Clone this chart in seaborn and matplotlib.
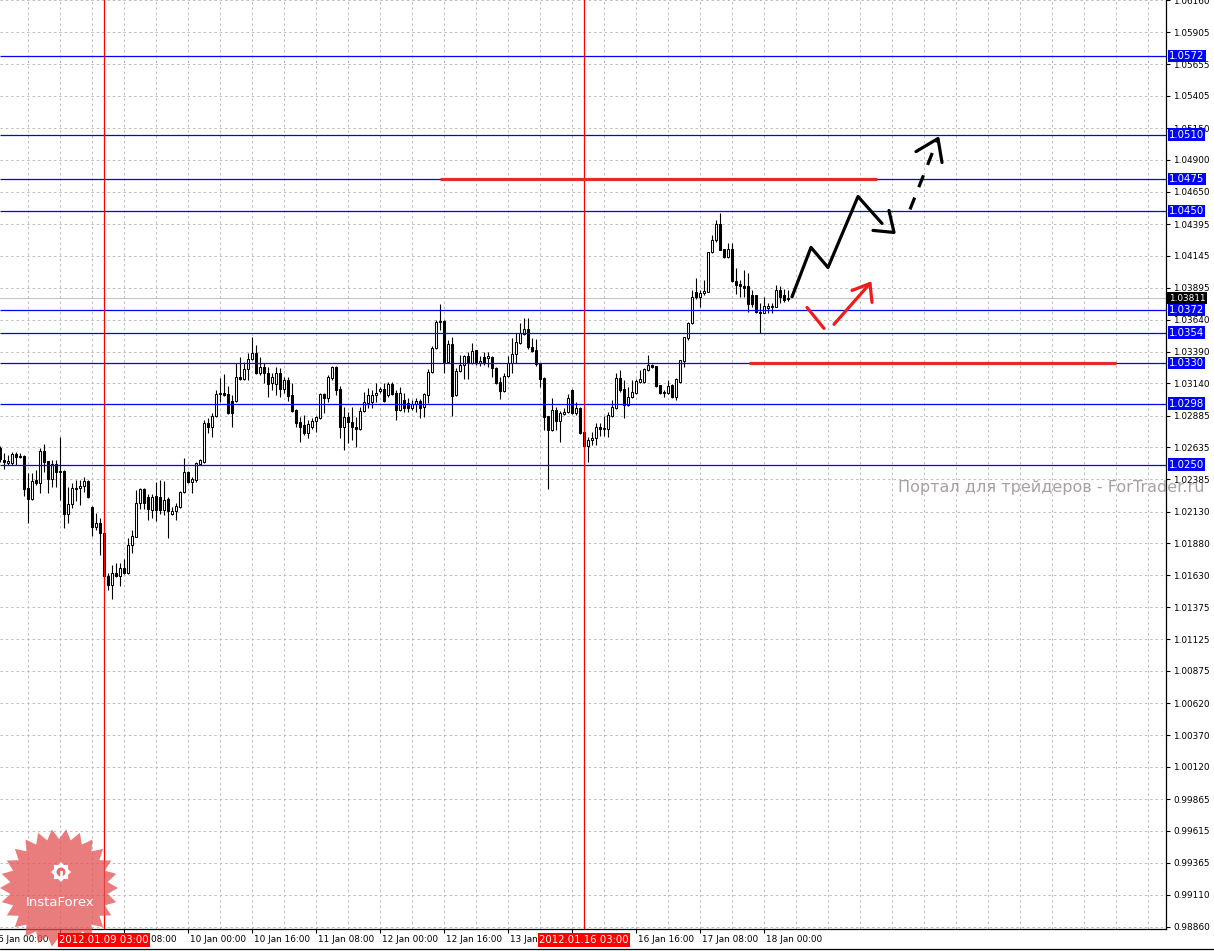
import numpy as np
import matplotlib
matplotlib.use("Agg")
import matplotlib.pyplot as plt
import matplotlib.transforms as mtransforms
from matplotlib.patches import Polygon
from matplotlib.lines import Line2D
import seaborn as sns

# H1 candles, 6 Jan 2012 01:00 .. 18 Jan 2012 06:00 (one value per bar)
opens = [
    1.02634, 1.02539, 1.02516, 1.02516, 1.02587, 1.02571, 1.02571, 1.02319, 1.02232, 1.02382,
    1.02358, 1.02610, 1.02531, 1.02390, 1.02508, 1.02453, 1.02453, 1.02114, 1.02193, 1.02319,
    1.02319, 1.02335, 1.02374, 1.02169, 1.02012, 1.02044, 1.01965, 1.01619, 1.01548, 1.01650,
    1.01619, 1.01689, 1.01650, 1.01870, 1.01933, 1.02201, 1.02311, 1.02248, 1.02146, 1.02256,
    1.02248, 1.02146, 1.02232, 1.02114, 1.02138, 1.02169, 1.02288, 1.02445, 1.02366, 1.02382,
    1.02508, 1.02524, 1.02831, 1.02799, 1.02886, 1.03059, 1.03067, 1.03059, 1.03004, 1.03004,
    1.03193, 1.03177, 1.03256, 1.03334, 1.03381, 1.03224, 1.03271, 1.03224, 1.03145, 1.03137,
    1.03224, 1.03098, 1.03169, 1.03051, 1.02933, 1.02838, 1.02815, 1.02752, 1.02799, 1.02846,
    1.02870, 1.03059, 1.03027, 1.03185, 1.03271, 1.03098, 1.02799, 1.02878, 1.02838, 1.02799,
    1.02783, 1.02925, 1.02988, 1.02996, 1.03051, 1.03082, 1.03098, 1.03051, 1.03137, 1.03067,
    1.02933, 1.03012, 1.02988, 1.02949, 1.02980, 1.03004, 1.02956, 1.03051, 1.03232, 1.03421,
    1.03625, 1.03633, 1.03311, 1.03452, 1.03051, 1.03240, 1.03287, 1.03358, 1.03303, 1.03405,
    1.03303, 1.03350, 1.03342, 1.03350, 1.03263, 1.03153, 1.03082, 1.03200, 1.03303, 1.03374,
    1.03460, 1.03531, 1.03570, 1.03429, 1.03405, 1.03303, 1.03185, 1.02886, 1.02775, 1.02933,
    1.02846, 1.02901, 1.02917, 1.03090, 1.02909, 1.02949, 1.02760, 1.02650, 1.02697, 1.02712,
    1.02799, 1.02783, 1.02783, 1.02886, 1.02949, 1.03185, 1.03098, 1.02972, 1.03035, 1.03067,
    1.03153, 1.03153, 1.03248, 1.03287, 1.03279, 1.03130, 1.03075, 1.03067, 1.03130, 1.03035,
    1.03153, 1.03318, 1.03499, 1.03618, 1.03862, 1.03822, 1.03854, 1.03862, 1.04176, 1.04271,
    1.04397, 1.04200, 1.04137, 1.04200, 1.03948, 1.03924, 1.03909, 1.03909, 1.03838, 1.03838,
    1.03704, 1.03696, 1.03736, 1.03743, 1.03743, 1.03877, 1.03838, 1.03806,
]
highs = [
    1.02650, 1.02594, 1.02579, 1.02602, 1.02602, 1.02594, 1.02579, 1.02437, 1.02437, 1.02461,
    1.02634, 1.02665, 1.02531, 1.02539, 1.02539, 1.02720, 1.02461, 1.02327, 1.02358, 1.02382,
    1.02382, 1.02406, 1.02382, 1.02177, 1.02122, 1.02083, 1.01973, 1.01650, 1.01713, 1.01729,
    1.01729, 1.01760, 1.01925, 1.01988, 1.02303, 1.02319, 1.02319, 1.02272, 1.02272, 1.02366,
    1.02382, 1.02374, 1.02248, 1.02169, 1.02201, 1.02295, 1.02555, 1.02453, 1.02406, 1.02524,
    1.02547, 1.02854, 1.02870, 1.02909, 1.03090, 1.03185, 1.03216, 1.03122, 1.03051, 1.03303,
    1.03350, 1.03311, 1.03381, 1.03507, 1.03444, 1.03350, 1.03303, 1.03271, 1.03224, 1.03271,
    1.03263, 1.03193, 1.03193, 1.03145, 1.02941, 1.02878, 1.02894, 1.02854, 1.02870, 1.02886,
    1.03067, 1.03067, 1.03208, 1.03279, 1.03279, 1.03122, 1.02956, 1.02917, 1.02956, 1.02878,
    1.02956, 1.03075, 1.03106, 1.03090, 1.03145, 1.03114, 1.03145, 1.03153, 1.03153, 1.03090,
    1.03114, 1.03067, 1.03027, 1.03012, 1.03027, 1.03019, 1.03067, 1.03256, 1.03437, 1.03641,
    1.03767, 1.03641, 1.03484, 1.03507, 1.03263, 1.03366, 1.03366, 1.03389, 1.03460, 1.03405,
    1.03358, 1.03389, 1.03389, 1.03358, 1.03271, 1.03193, 1.03224, 1.03358, 1.03499, 1.03539,
    1.03618, 1.03657, 1.03657, 1.03499, 1.03492, 1.03303, 1.03193, 1.02886, 1.03027, 1.02956,
    1.02925, 1.02949, 1.03059, 1.03098, 1.02996, 1.02956, 1.02768, 1.02720, 1.02760, 1.02831,
    1.02831, 1.02886, 1.02917, 1.03012, 1.03224, 1.03248, 1.03169, 1.03114, 1.03169, 1.03177,
    1.03248, 1.03263, 1.03366, 1.03295, 1.03279, 1.03130, 1.03090, 1.03169, 1.03137, 1.03185,
    1.03326, 1.03507, 1.03625, 1.03877, 1.03972, 1.03877, 1.03956, 1.04176, 1.04310, 1.04428,
    1.04483, 1.04200, 1.04247, 1.04247, 1.04050, 1.03956, 1.04035, 1.04011, 1.03877, 1.03838,
    1.03775, 1.03822, 1.03775, 1.03775, 1.03917, 1.03909, 1.03885, 1.03877,
]
lows = [
    1.02524, 1.02469, 1.02500, 1.02500, 1.02500, 1.02555, 1.02256, 1.02044, 1.02225, 1.02343,
    1.02280, 1.02445, 1.02280, 1.02327, 1.02327, 1.02225, 1.02004, 1.02044, 1.02162, 1.02217,
    1.02185, 1.02288, 1.02240, 1.01941, 1.01988, 1.01792, 1.01595, 1.01516, 1.01438, 1.01611,
    1.01540, 1.01642, 1.01642, 1.01807, 1.01933, 1.02154, 1.02154, 1.02067, 1.02083, 1.02059,
    1.02114, 1.02106, 1.01925, 1.02106, 1.02067, 1.02162, 1.02280, 1.02358, 1.02280, 1.02366,
    1.02500, 1.02516, 1.02752, 1.02720, 1.02878, 1.02996, 1.03043, 1.02901, 1.02799, 1.02996,
    1.03169, 1.03169, 1.03169, 1.03326, 1.03216, 1.03208, 1.03145, 1.03035, 1.03090, 1.03051,
    1.03035, 1.03067, 1.03004, 1.02917, 1.02799, 1.02681, 1.02736, 1.02712, 1.02783, 1.02760,
    1.02862, 1.02909, 1.02996, 1.03169, 1.03051, 1.02712, 1.02618, 1.02673, 1.02697, 1.02642,
    1.02775, 1.02917, 1.02949, 1.02949, 1.02996, 1.03067, 1.02996, 1.03035, 1.03051, 1.02854,
    1.02925, 1.02917, 1.02917, 1.02933, 1.02917, 1.02870, 1.02878, 1.02988, 1.03224, 1.03413,
    1.03562, 1.03224, 1.03303, 1.02886, 1.03043, 1.03232, 1.03177, 1.03177, 1.03295, 1.03287,
    1.03279, 1.03287, 1.03271, 1.03193, 1.03137, 1.03019, 1.03075, 1.03193, 1.03224, 1.03303,
    1.03452, 1.03523, 1.03413, 1.03389, 1.03279, 1.03114, 1.02775, 1.02311, 1.02768, 1.02775,
    1.02681, 1.02894, 1.02909, 1.02901, 1.02894, 1.02744, 1.02642, 1.02524, 1.02657, 1.02657,
    1.02728, 1.02728, 1.02720, 1.02878, 1.02941, 1.03075, 1.02870, 1.02964, 1.03027, 1.03059,
    1.03145, 1.03145, 1.03240, 1.03263, 1.03114, 1.03059, 1.03035, 1.03059, 1.03027, 1.03012,
    1.03145, 1.03271, 1.03484, 1.03610, 1.03806, 1.03743, 1.03838, 1.03862, 1.04168, 1.04255,
    1.04192, 1.04129, 1.04129, 1.03940, 1.03846, 1.03822, 1.03822, 1.03704, 1.03743, 1.03696,
    1.03539, 1.03696, 1.03696, 1.03696, 1.03743, 1.03775, 1.03783, 1.03791,
]
closes = [
    1.02547, 1.02524, 1.02531, 1.02587, 1.02563, 1.02563, 1.02311, 1.02232, 1.02374, 1.02358,
    1.02610, 1.02524, 1.02390, 1.02508, 1.02445, 1.02445, 1.02114, 1.02193, 1.02319, 1.02311,
    1.02335, 1.02374, 1.02248, 1.02012, 1.02044, 1.01965, 1.01619, 1.01548, 1.01650, 1.01619,
    1.01689, 1.01650, 1.01870, 1.01941, 1.02201, 1.02311, 1.02201, 1.02154, 1.02248, 1.02146,
    1.02146, 1.02225, 1.02138, 1.02138, 1.02177, 1.02288, 1.02445, 1.02366, 1.02390, 1.02516,
    1.02539, 1.02831, 1.02799, 1.02886, 1.03059, 1.03067, 1.03051, 1.02909, 1.02909, 1.03193,
    1.03177, 1.03256, 1.03334, 1.03381, 1.03224, 1.03271, 1.03224, 1.03137, 1.03193, 1.03224,
    1.03098, 1.03169, 1.03043, 1.02925, 1.02831, 1.02799, 1.02752, 1.02823, 1.02846, 1.02878,
    1.03059, 1.03027, 1.03193, 1.03271, 1.03090, 1.02799, 1.02878, 1.02838, 1.02799, 1.02783,
    1.02925, 1.02996, 1.03051, 1.03051, 1.03067, 1.03098, 1.03004, 1.03137, 1.03059, 1.02933,
    1.03067, 1.02949, 1.02949, 1.02980, 1.03004, 1.02949, 1.03059, 1.03232, 1.03421, 1.03625,
    1.03633, 1.03311, 1.03452, 1.03043, 1.03240, 1.03287, 1.03358, 1.03303, 1.03397, 1.03303,
    1.03318, 1.03303, 1.03358, 1.03263, 1.03145, 1.03082, 1.03200, 1.03303, 1.03374, 1.03468,
    1.03539, 1.03570, 1.03429, 1.03397, 1.03295, 1.03177, 1.02878, 1.02775, 1.02933, 1.02846,
    1.02909, 1.02917, 1.03027, 1.02909, 1.02949, 1.02752, 1.02650, 1.02697, 1.02712, 1.02799,
    1.02783, 1.02791, 1.02894, 1.02956, 1.03185, 1.03090, 1.02972, 1.03035, 1.03075, 1.03161,
    1.03177, 1.03256, 1.03287, 1.03271, 1.03122, 1.03067, 1.03067, 1.03122, 1.03035, 1.03177,
    1.03326, 1.03507, 1.03618, 1.03822, 1.03822, 1.03854, 1.03869, 1.04176, 1.04271, 1.04397,
    1.04192, 1.04137, 1.04200, 1.03948, 1.03917, 1.03909, 1.03893, 1.03767, 1.03767, 1.03704,
    1.03696, 1.03751, 1.03751, 1.03751, 1.03877, 1.03822, 1.03799, 1.03811,
]

# price scale
price_ticks = [0.98860, 0.99110, 0.99365, 0.99615, 0.99865, 1.00120, 1.00370, 1.00620,
               1.00875, 1.01125, 1.01375, 1.01630, 1.01880, 1.02130, 1.02385, 1.02635,
               1.02885, 1.03140, 1.03390, 1.03640, 1.03895, 1.04145, 1.04395, 1.04650,
               1.04900, 1.05150, 1.05405, 1.05655, 1.05905, 1.06160]

# time scale (bar index of each label)
time_ticks = [-1, 15, 31, 47, 63, 79, 95, 111, 127, 143, 159, 175, 191]
time_labels = ["6 Jan 00:00", "6 Jan 16:00", "9 Jan 08:00", "10 Jan 00:00", "10 Jan 16:00",
               "11 Jan 08:00", "12 Jan 00:00", "12 Jan 16:00", "13 Jan 08:00", "16 Jan 00:00",
               "16 Jan 16:00", "17 Jan 08:00", "18 Jan 00:00"]

# horizontal levels and vertical markers
levels = [1.0572, 1.0510, 1.0475, 1.0450, 1.0372, 1.0354, 1.0330, 1.0298, 1.0250]
level_labels = ["1.0572", "1.0510", "1.0475", "1.0450", "1.0372", "1.0354", "1.0330", "1.0298", "1.0250"]
bid = 1.03811
marker_bars = [26, 146]
marker_labels = ["2012.01.09 03:00", "2012.01.16 03:00"]

# red target lines: (price, from bar, to bar)
target_price = [1.0475, 1.0330]
target_from = [110, 187.25]
target_to = [219.25, 279]

# forecast arrows (bar index, price)
main_x = [198, 202.75, 207, 214.5, 220.5]
main_y = [1.03822, 1.04211, 1.04053, 1.04612, 1.04400]
main_head_x = [218.25, 223.5, 222.25]
main_head_y = [1.04345, 1.04329, 1.04502]
alt_x = [227.5, 234.5]
alt_y = [1.04510, 1.05069]
alt_head_x = [229, 234.5, 235.5]
alt_head_y = [1.04966, 1.05069, 1.04880]
red_a_x = [201.75, 206]
red_a_y = [1.03738, 1.03573]
red_b_x = [208.5, 217.5]
red_b_y = [1.03605, 1.03927]
red_head_x = [213, 217.5, 218]
red_head_y = [1.03872, 1.03927, 1.03778]

sns.set_theme(style="white")
plt.rcParams["font.family"] = ["DejaVu Sans"]

W, H = 1214, 951
fig = plt.figure(figsize=(W / 100, H / 100), dpi=100)
fig.patch.set_facecolor("white")
ax = fig.add_axes([0, 22 / H, 1166 / W, 929 / H])
ax.set_facecolor("white")
ax.set_xlim(0, 291.5)
ax.set_ylim(0.98842, 1.06160)

# grid
grid_kw = dict(color="#bcbcbc", lw=0.7, ls=(0, (2.5, 3)), zorder=1)
for gx in range(-1, 292, 8):
    ax.axvline(gx, **grid_kw)
for gy in price_ticks:
    ax.axhline(gy, **grid_kw)

ax.axhline(bid, color="#c4c4c4", lw=0.8, zorder=1.5)

# candles
o = np.array(opens)
h = np.array(highs)
l = np.array(lows)
c = np.array(closes)
xs = np.arange(len(o))
up = c >= o
ax.vlines(xs, l, h, color="black", lw=0.8, zorder=3)
ax.bar(xs, np.abs(c - o), bottom=np.minimum(o, c), width=0.5,
       color=np.where(up, "white", "black"), edgecolor="black", linewidth=0.75, zorder=4)

# levels, markers, targets
ax.hlines(levels, 0, 291.5, color="#0000ff", lw=0.9, zorder=5)
for m in marker_bars:
    ax.axvline(m, color="#ff0000", lw=0.9, zorder=5)
ax.hlines(target_price, target_from, target_to, color="#e62a2a", lw=2.3, zorder=6)

# forecast arrows
sns.lineplot(x=main_x, y=main_y, sort=False, estimator=None, color="black", lw=2.3, ax=ax, zorder=7)
ax.plot(main_head_x, main_head_y, color="black", lw=2.3, zorder=7)
ax.plot(alt_x, alt_y, color="black", lw=2.3, ls=(0, (4, 3.5)), zorder=7)
ax.plot(alt_head_x, alt_head_y, color="black", lw=2.3, zorder=7)
for rx, ry in [(red_a_x, red_a_y), (red_b_x, red_b_y), (red_head_x, red_head_y)]:
    ax.plot(rx, ry, color="#ee1c1c", lw=2.3, zorder=7)

# axes frame and price scale
for side in ["left", "top"]:
    ax.spines[side].set_visible(False)
for side in ["right", "bottom"]:
    ax.spines[side].set_color("black")
    ax.spines[side].set_linewidth(0.9)
ax.yaxis.tick_right()
ax.set_yticks(price_ticks)
ax.set_yticklabels([f"{v:.5f}" for v in price_ticks])
ax.tick_params(axis="y", length=3, width=0.8, pad=2, labelsize=6.4, colors="black",
               right=True, left=False)
ax.set_xticks([t for t in time_ticks if t >= 0])
ax.set_xticklabels([])
ax.tick_params(axis="x", length=3, width=0.8, bottom=True, colors="black")
ax.grid(False)

for t, lab in zip(time_ticks, time_labels):
    ax.annotate(lab, xy=(t, 0), xycoords=("data", "axes fraction"), xytext=(2, -11),
                textcoords="offset pixels", ha="left", va="center", fontsize=6.4,
                color="black", annotation_clip=False, zorder=8)

for lv, lab in zip(levels, level_labels):
    ax.annotate(lab, xy=(1, lv), xycoords=("axes fraction", "data"), xytext=(3, 0),
                textcoords="offset pixels", ha="left", va="center", fontsize=7.3,
                color="white", annotation_clip=False, zorder=10,
                bbox=dict(boxstyle="square,pad=0.12", fc="#0000ff", ec="none"))
ax.annotate(f"{bid:.5f}", xy=(1, bid), xycoords=("axes fraction", "data"), xytext=(3, 0),
            textcoords="offset pixels", ha="left", va="center", fontsize=6.4,
            color="white", annotation_clip=False, zorder=10,
            bbox=dict(boxstyle="square,pad=0.2", fc="black", ec="none"))

# InstaForex badge
cx, cy, r_out, r_in, teeth = 59, 888, 59, 49, 26
k = np.arange(2 * teeth)
ang = np.pi * k / teeth
rad = np.where(k % 2 == 0, r_out, r_in)
star = np.c_[(cx + rad * np.cos(ang)) / W, 1 - (cy + rad * np.sin(ang)) / H]
fig.add_artist(Polygon(star, closed=True, transform=fig.transFigure,
                       fc="#e25252", ec="none", alpha=0.75, zorder=30))
gx_, gy_ = 61, 872
k8 = np.arange(16)
gang = np.pi * k8 / 8
grad = np.where(k8 % 2 == 0, 10, 7.5)
gear = np.c_[(gx_ + grad * np.cos(gang)) / W, 1 - (gy_ + grad * np.sin(gang)) / H]
fig.add_artist(Polygon(gear, closed=True, transform=fig.transFigure, fc="white", ec="none", zorder=31))
fig.add_artist(Polygon(np.c_[(gx_ + 4.5 * np.cos(gang)) / W, 1 - (gy_ + 4.5 * np.sin(gang)) / H],
                       closed=True, transform=fig.transFigure, fc="#e86a6a", ec="none", zorder=32))
fig.text(gx_ / W, 1 - (gy_ + 4) / H, "ı", color="white", fontsize=11, fontweight="bold",
         ha="center", va="center", zorder=33)
fig.text(60 / W, 1 - 903 / H, "InstaForex", color="white", fontsize=9.5,
         ha="center", va="center", zorder=33)

# date markers on the time scale (over the badge)
tr = mtransforms.blended_transform_factory(ax.transData, fig.transFigure)
for m, lab in zip(marker_bars, marker_labels):
    fig.text(m, 1 - 940 / H, lab, transform=tr, ha="center", va="center", fontsize=7.3,
             color="white", zorder=40,
             bbox=dict(boxstyle="square,pad=0.15", fc="#ff0000", ec="none"))

fig.text(898 / W, 1 - 487 / H, "Портал для трейдеров - ForTrader.ru", color="#a8a0a0",
         fontsize=11.5, ha="left", va="center", zorder=20)
fig.add_artist(Line2D([0, 1], [1 - 949 / H] * 2, color="black", lw=0.9, transform=fig.transFigure))

fig.savefig("out.png", dpi=100)
